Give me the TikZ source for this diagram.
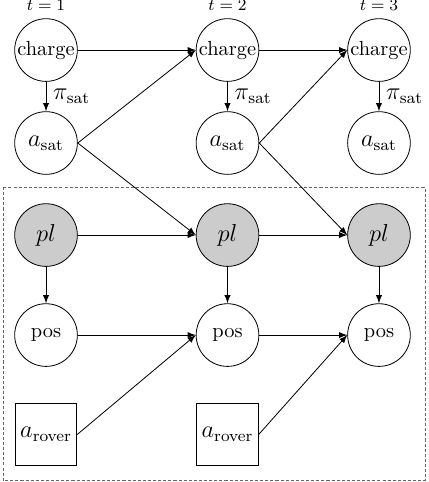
\documentclass[tikz,border=0pt]{standalone}
\usepackage{xcolor}
\usepackage{tikz}
\usetikzlibrary{shapes,arrows}

\begin{document}
\begin{tikzpicture}[>=latex,
    var/.style={draw,circle,minimum size=1.08cm,inner sep=0.5pt},
    obs/.style={var,fill=gray!40},
    act/.style={draw,rectangle,minimum size=1.06cm,inner sep=0.5pt},
    tlab/.style={label={[label distance=0.5pt,font=\footnotesize]above:{$t=#1$}}}]
      \useasboundingbox (-0.793,0.862) rectangle (6.582,-7.443);
      % satellite part
      \node [var,tlab=1] (charge1) at (0,0) {charge};
      \node [var,tlab=2] (charge2) at (3.127,0) {charge};
      \node [var,tlab=3] (charge3) at (5.737,0) {charge};
      \node [var,font=\large] (sat1) at (0,-1.602) {$a_{\mathrm{sat}}$};
      \node [var,font=\large] (sat2) at (3.127,-1.602) {$a_{\mathrm{sat}}$};
      \node [var,font=\large] (sat3) at (5.737,-1.602) {$a_{\mathrm{sat}}$};
      % rover part
      \draw [dashed,dash pattern=on 1.5pt off 1pt,gray!80!black] (-0.741,-2.361) rectangle (6.530,-7.420);
      \node [obs,font=\large] (pl1) at (0,-3.188) {$pl$};
      \node [obs,font=\large] (pl2) at (3.127,-3.188) {$pl$};
      \node [obs,font=\large] (pl3) at (5.737,-3.188) {$pl$};
      \node [var] (pos1) at (0,-4.911) {pos};
      \node [var] (pos2) at (3.127,-4.911) {pos};
      \node [var] (pos3) at (5.737,-4.911) {pos};
      \node [act,font=\large] (rover1) at (0,-6.625) {$a_{\mathrm{rover}}$};
      \node [act,font=\large] (rover2) at (3.127,-6.625) {$a_{\mathrm{rover}}$};
      % edges
      \draw [->] (charge1) -- (sat1) node [midway,right,font=\large] {$\pi_{\mathrm{sat}}$};
      \draw [->] (charge2) -- (sat2) node [midway,right,font=\large] {$\pi_{\mathrm{sat}}$};
      \draw [->] (charge3) -- (sat3) node [midway,right,font=\large] {$\pi_{\mathrm{sat}}$};
      \draw [->] (charge1) -- (charge2);
      \draw [->] (charge2) -- (charge3);
      \draw [->] (sat1.east) -- (charge2.west);
      \draw [->] (sat2.east) -- (charge3.west);
      \draw [->] (sat1.east) -- (pl2.west);
      \draw [->] (sat2.east) -- (pl3.west);
      \draw [->] (pl1) -- (pl2);
      \draw [->] (pl2) -- (pl3);
      \draw [->] (pl1) -- (pos1);
      \draw [->] (pl2) -- (pos2);
      \draw [->] (pl3) -- (pos3);
      \draw [->] (pos1) -- (pos2);
      \draw [->] (pos2) -- (pos3);
      \draw [->] (rover1.east) -- (pos2.west);
      \draw [->] (rover2.east) -- (pos3.west);
\end{tikzpicture}
\end{document}
